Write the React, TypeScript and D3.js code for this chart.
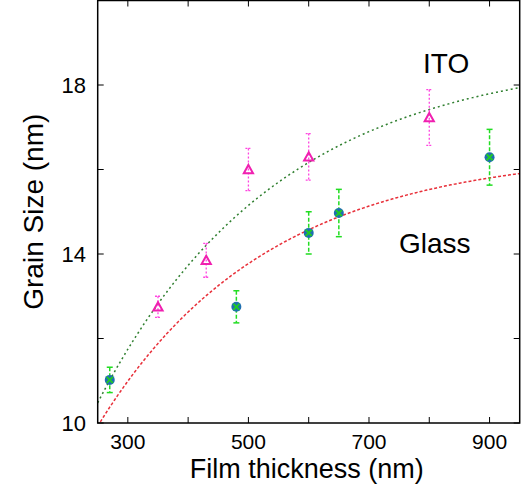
import React from "react";
import * as d3 from "d3";

const W = 529;
const H = 488;

// ITO data (open magenta triangles)
const itoX = [350, 430, 500, 600, 800];
const itoY = [12.75, 13.85, 16.0, 16.3, 17.23];
const itoErr = [0.25, 0.4, 0.5, 0.55, 0.66];

// Glass data (filled circles)
const glassX = [270, 480, 600, 650, 900];
const glassY = [11.02, 12.75, 14.5, 14.97, 16.29];
const glassErr = [0.3, 0.38, 0.5, 0.56, 0.66];

// Fit parameters: y = A - B * exp(-x / C)
const itoFit = { A: 18.74, B: 19.01, C: 300 };
const glassFit = { A: 16.44, B: 15.91, C: 280 };

const xTicks = [300, 400, 500, 600, 700, 800, 900];
const xLabels = [300, 500, 700, 900];
const yTicks = [10, 12, 14, 16, 18, 20];
const yLabels = [10, 14, 18];

const M = { left: 97.7, right: 519.7, top: 0.5, bottom: 423 };

export default function App() {
  const x = d3.scaleLinear().domain([250, 950]).range([M.left, M.right]);
  const y = d3.scaleLinear().domain([10, 20]).range([M.bottom, M.top]);

  const fitPath = (p: { A: number; B: number; C: number }) => {
    const xs = d3.range(250, 950.1, 2);
    const pts: [number, number][] = xs.map((v) => [v, p.A - p.B * Math.exp(-v / p.C)]);
    return d3
      .line<[number, number]>()
      .x((d) => x(d[0]))
      .y((d) => y(d[1]))(pts) as string;
  };

  const font = "Arial, 'Liberation Sans', Helvetica, sans-serif";
  const tri = (cx: number, cy: number) => {
    const s = 4.6;
    return `M${cx},${cy - s} L${cx + s},${cy + s * 0.8} L${cx - s},${cy + s * 0.8} Z`;
  };

  return (
    <div style={{ position: "absolute", left: 0, top: 0 }}>
      <svg width={W} height={H} style={{ display: "block" }}>
        <rect x={0} y={0} width={W} height={H} fill="#fff" />
        <defs>
          <clipPath id="plot">
            <rect x={M.left} y={M.top} width={M.right - M.left} height={M.bottom - M.top} />
          </clipPath>
        </defs>
        {/* fit curves */}
        <g clipPath="url(#plot)">
          <path d={fitPath(itoFit)} fill="none" stroke="#2f7f2f" strokeWidth={1.5} strokeDasharray="2,3" />
          <path d={fitPath(glassFit)} fill="none" stroke="#e8303a" strokeWidth={1.5} strokeDasharray="3,2" />
        </g>
        {/* ITO error bars */}
        {itoX.map((v, i) => (
          <g key={"ie" + i} stroke="#ff44e0" strokeWidth={1.3} fill="none">
            <line x1={x(v)} x2={x(v)} y1={y(itoY[i] + itoErr[i])} y2={y(itoY[i] - itoErr[i])} strokeDasharray="2,2" />
            <line x1={x(v) - 3} x2={x(v) + 3} y1={y(itoY[i] + itoErr[i])} y2={y(itoY[i] + itoErr[i])} strokeDasharray="2,1" />
            <line x1={x(v) - 3} x2={x(v) + 3} y1={y(itoY[i] - itoErr[i])} y2={y(itoY[i] - itoErr[i])} strokeDasharray="2,1" />
          </g>
        ))}
        {itoX.map((v, i) => (
          <path key={"it" + i} d={tri(x(v), y(itoY[i]))} fill="none" stroke="#f020b0" strokeWidth={2} />
        ))}
        {/* Glass error bars */}
        {glassX.map((v, i) => (
          <g key={"ge" + i} stroke="#22dd22" strokeWidth={1.5} fill="none">
            <line x1={x(v)} x2={x(v)} y1={y(glassY[i] + glassErr[i])} y2={y(glassY[i] - glassErr[i])} strokeDasharray="4,2" />
            <line x1={x(v) - 3} x2={x(v) + 3} y1={y(glassY[i] + glassErr[i])} y2={y(glassY[i] + glassErr[i])} />
            <line x1={x(v) - 3} x2={x(v) + 3} y1={y(glassY[i] - glassErr[i])} y2={y(glassY[i] - glassErr[i])} />
          </g>
        ))}
        {glassX.map((v, i) => {
          const cx = x(v);
          const cy = y(glassY[i]);
          return (
            <g key={"gp" + i}>
              <circle cx={cx} cy={cy} r={5} fill="#1f6fb0" />
              <line x1={cx - 3} x2={cx + 3} y1={cy - 3} y2={cy + 3} stroke="#22cc22" strokeWidth={1.8} />
              <line x1={cx - 3} x2={cx + 3} y1={cy + 3} y2={cy - 3} stroke="#22cc22" strokeWidth={1.8} />
            </g>
          );
        })}
        {/* frame */}
        <rect x={M.left} y={M.top} width={M.right - M.left} height={M.bottom - M.top} fill="none" stroke="#000" strokeWidth={1.5} />
        {/* ticks */}
        {xTicks.map((t) => (
          <g key={"xt" + t} stroke="#000" strokeWidth={1}>
            <line x1={x(t)} x2={x(t)} y1={M.bottom} y2={M.bottom - 6} />
            <line x1={x(t)} x2={x(t)} y1={M.top} y2={M.top + 6} />
          </g>
        ))}
        {yTicks.map((t) => (
          <g key={"yt" + t} stroke="#000" strokeWidth={1}>
            <line x1={M.left} x2={M.left + 6} y1={y(t)} y2={y(t)} />
            <line x1={M.right} x2={M.right - 6} y1={y(t)} y2={y(t)} />
          </g>
        ))}
        {xLabels.map((t) => (
          <text key={"xl" + t} x={x(t)} y={448.5} textAnchor="middle" fontFamily={font} fontSize={21} fill="#000">
            {t}
          </text>
        ))}
        {yLabels.map((t) => (
          <text key={"yl" + t} x={86} y={y(t) + 7.8} textAnchor="end" fontFamily={font} fontSize={22} fill="#000">
            {t}
          </text>
        ))}
        <text x={(M.left + M.right) / 2 - 2} y={477.5} textAnchor="middle" fontFamily={font} fontSize={27} fill="#000">
          Film thickness (nm)
        </text>
        <text
          transform={`translate(43,${(M.top + M.bottom) / 2}) rotate(-90)`}
          textAnchor="middle"
          fontFamily={font}
          fontSize={28}
          fill="#000"
        >
          Grain Size (nm)
        </text>
        <text x={423} y={73} fontFamily={font} fontSize={28} fill="#000">
          ITO
        </text>
        <text x={399} y={253} fontFamily={font} fontSize={28} fill="#000">
          Glass
        </text>
      </svg>
    </div>
  );
}
